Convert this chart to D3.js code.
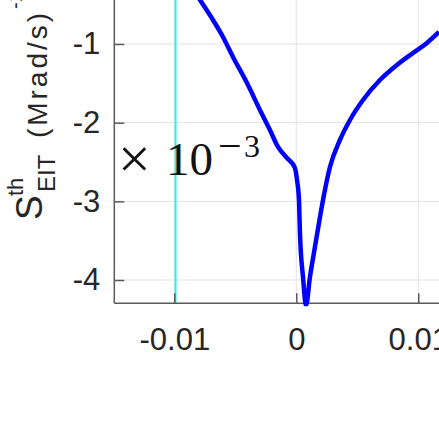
<!DOCTYPE html>
<html>
<head>
<meta charset="utf-8">
<script src="https://cdn.jsdelivr.net/npm/d3@7"></script>
<style>
  body { margin: 0; background: #fff; }
  .tick text { font-family: "Liberation Sans", Arial, sans-serif; fill: #262626; }
</style>
</head>
<body>
<svg id="chart"></svg>
<script>
// curve (x in s, y in units of 1e-3)
const xs = [-0.00837, -0.00789, -0.00683, -0.00601, -0.00519, -0.00404, -0.00298, -0.00216, -0.0015, -0.00076, -0.00011, 0.00006, 0.00022, 0.0003, 0.00055, 0.0008, 0.00112, 0.00153, 0.00194, 0.00219, 0.00276, 0.00358, 0.0044, 0.00547, 0.00686, 0.00825, 0.00957, 0.01071, 0.0117];
const ys = [-0.327, -0.441, -0.695, -0.911, -1.165, -1.496, -1.839, -2.093, -2.309, -2.449, -2.576, -2.729, -2.983, -3.4, -3.962, -4.32, -3.962, -3.58, -3.2, -2.983, -2.564, -2.22, -1.966, -1.712, -1.458, -1.267, -1.114, -0.987, -0.847];
const markerX = -0.0099;
const xTicks = [-0.01, 0, 0.01];
const xTickLabels = ["-0.01", "0", "0.01"];
const yTicks = [-1, -2, -3, -4];
const yTickLabels = ["-1", "-2", "-3", "-4"];

const width = 439, height = 424;
const left = 114.3, bottom = 303.3;

const svg = d3.select("#chart").attr("width", width).attr("height", height);

const x = d3.scaleLinear().domain([-0.01492, 0.0117]).range([left, width]);
const y = d3.scaleLinear().domain([-4.296, -0.441]).range([bottom, 0]);

// grid
svg.append("g").selectAll("line").data(xTicks).join("line")
  .attr("x1", d => x(d)).attr("x2", d => x(d))
  .attr("y1", 0).attr("y2", bottom)
  .attr("stroke", "#e3e3e3").attr("stroke-width", 1);
svg.append("g").selectAll("line").data(yTicks).join("line")
  .attr("x1", left).attr("x2", width)
  .attr("y1", d => y(d)).attr("y2", d => y(d))
  .attr("stroke", "#e3e3e3").attr("stroke-width", 1);

// cyan marker line
svg.append("line")
  .attr("x1", x(markerX)).attr("x2", x(markerX))
  .attr("y1", 0).attr("y2", bottom)
  .attr("stroke", "#2ff0f0").attr("stroke-width", 2);

// axes
const xAxis = d3.axisBottom(x).tickValues(xTicks)
  .tickFormat((d, i) => xTickLabels[i])
  .tickSizeInner(-10).tickSizeOuter(0).tickPadding(25);
const gx = svg.append("g").attr("transform", `translate(0,${bottom})`).call(xAxis);
gx.selectAll("text").attr("font-size", 31);

const yAxis = d3.axisLeft(y).tickValues(yTicks)
  .tickFormat((d, i) => yTickLabels[i])
  .tickSizeInner(-10).tickSizeOuter(0).tickPadding(14);
const gy = svg.append("g").attr("transform", `translate(${left},0)`).call(yAxis);
gy.selectAll("text").attr("font-size", 31);

svg.selectAll(".domain, .tick line").attr("stroke", "#5a5a5a").attr("stroke-width", 1.5);
gy.select(".domain").attr("d", `M0,0V${bottom}`);
gx.select(".domain").attr("d", `M${left},0H${width}`);

// curve
svg.append("clipPath").attr("id", "clip")
  .append("rect").attr("x", left).attr("y", 0)
  .attr("width", width - left).attr("height", bottom + 3);

const line = d3.line()
  .x((d, i) => x(xs[i]))
  .y((d, i) => y(ys[i]))
  .curve(d3.curveMonotoneX);

svg.append("path")
  .datum(xs)
  .attr("clip-path", "url(#clip)")
  .attr("d", line)
  .attr("fill", "none")
  .attr("stroke", "#0000ff")
  .attr("stroke-width", 4.5)
  .attr("stroke-linejoin", "round");

// exponent label
const serif = '"Liberation Serif", "Times New Roman", serif';
svg.append("text").attr("x", 118).attr("y", 178)
  .attr("font-family", serif).attr("font-size", 58).attr("fill", "#111")
  .text("\u00d7");
svg.append("text").attr("x", 166).attr("y", 175)
  .attr("font-family", serif).attr("font-size", 47).attr("fill", "#111")
  .text("10");
svg.append("text").attr("x", 218).attr("y", 160)
  .attr("font-family", serif).attr("font-size", 42).attr("fill", "#111")
  .text("\u2212");
svg.append("text").attr("x", 244).attr("y", 157)
  .attr("font-family", serif).attr("font-size", 32).attr("fill", "#111")
  .text("3");

// y label
const sans = '"Liberation Sans", Arial, sans-serif';
function ylab(txt, py, px, size, len) {
  const t = svg.append("text")
    .attr("transform", `translate(${px},${py}) rotate(-90)`)
    .attr("font-family", sans).attr("font-size", size).attr("fill", "#262626")
    .text(txt);
  if (len) t.attr("textLength", len).attr("lengthAdjust", "spacing");
}
ylab("S", 220, 42, 37);
ylab("th", 196, 23, 22);
ylab("EIT", 192, 55, 24);
ylab("(Mrad/s)", 138, 47, 28, 125);
ylab("-1", 9, 22, 20);
</script>
</body>
</html>
